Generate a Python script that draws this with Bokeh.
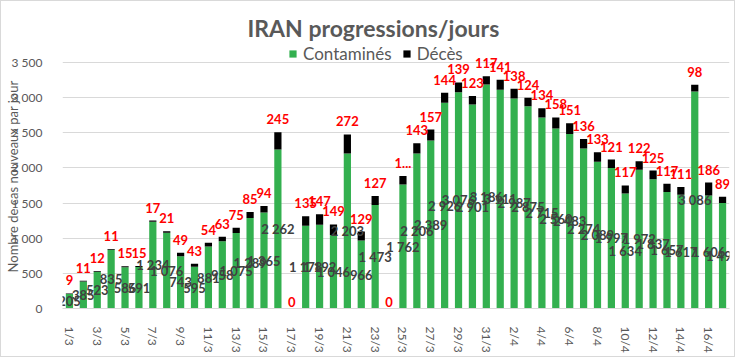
from bokeh.plotting import figure
from bokeh.models import (ColumnDataSource, Range1d, Legend, LegendItem, FixedTicker, Title)
from bokeh.embed import file_html
from bokeh.resources import INLINE
from bokeh.core.properties import value

# ---------------- data ----------------
days = [f"{d}/3" for d in range(1, 32)] + [f"{d}/4" for d in range(1, 18)]
contamines = [205, 385, 523, 835, 586, 591, 1234, 1076, 743, 595, 881, 958, 1075, 1289,
              1365, 2262, 0, 1178, 1192, 1046, 2203, 966, 1473, 0, 1762, 2206, 2389, 2926,
              3076, 2901, 3186, 3111, 2987, 2875, 2715, 2560, 2483, 2274, 2089, 1997, 1634,
              1972, 1837, 1657, 1617, 3086, 1606, 1499]
deces = [9, 11, 12, 11, 15, 15, 17, 21, 49, 43, 54, 63, 75, 85, 94, 245, 0, 135, 147, 149,
         272, 129, 127, 0, 122, 143, 157, 144, 139, 123, 117, 141, 138, 124, 134, 158, 151,
         136, 133, 121, 117, 122, 125, 117, 111, 98, 186, 89]
deces_label_override = {"25/3": "1..."}
y_ticks = [0, 500, 1000, 1500, 2000, 2500, 3000, 3500]

GREEN = "#33B04F"
FONT = "Lato"
GREY = "#595959"

def fmt(v):
    return f"{v:,}".replace(",", " ")

idx = list(range(len(days)))
total = [c + d for c, d in zip(contamines, deces)]
src = ColumnDataSource(dict(
    x=idx, c=contamines, d=deces,
    c_mid=[c / 2 for c in contamines],
    c_txt=[fmt(c) if c else "" for c in contamines],
    top=total,
    d_txt=[deces_label_override.get(day, fmt(d)) for day, d in zip(days, deces)],
    d_off=[-13 if t else -7 for t in total],
))

FW, FH = 667, 264
p = figure(x_range=Range1d(-0.5, len(days) - 0.5), y_range=Range1d(0, 3755),
           frame_width=FW, frame_height=FH, output_backend="svg", toolbar_location=None,
           title_location=None,
           min_border_left=49, min_border_right=5, min_border_top=36, min_border_bottom=48)
p.styles = {"border": "1px solid #D9D9D9"}

rs = p.vbar_stack(["c", "d"], x="x", width=0.52, color=[GREEN, "black"], source=src,
                  line_color=None)

p.text(x="x", y="c_mid", text="c_txt", source=src, text_align="center",
       text_baseline="middle", text_font=value(FONT), text_font_style="bold",
       text_font_size="13px", text_color="#404040")
p.text(x="x", y="top", text="d_txt", source=src, text_align="center",
       text_baseline="middle", y_offset="d_off", text_font=value(FONT),
       text_font_style="bold", text_font_size="13px", text_color="#FF0000")

legend = Legend(items=[LegendItem(label="Contaminés", renderers=[rs[0]]),
                       LegendItem(label="Décès", renderers=[rs[1]])],
                orientation="horizontal", location=(226, FH - 20),
                label_text_font=FONT, label_text_font_size="17px", label_text_color=GREY,
                glyph_width=9, glyph_height=9, label_height=18, padding=0, margin=0,
                spacing=10, label_standoff=6, border_line_color=None,
                background_fill_alpha=0)
p.add_layout(legend)

main_title = Title(text="IRAN progressions/jours", align="left", offset=185,
                   text_font=FONT, text_font_size="23px", text_font_style="bold",
                   text_color=GREY, standoff=5)
p.add_layout(main_title, "above")
# small empty spacer (outer side) above the title
p.add_layout(Title(text=" ", text_font_size="2px", standoff=4), "above")

# axes
p.yaxis.ticker = FixedTicker(ticks=y_ticks)
p.yaxis.major_label_overrides = {t: fmt(t) for t in y_ticks}
p.yaxis.axis_line_color = None
p.yaxis.major_tick_line_color = None
p.yaxis.minor_tick_line_color = None
p.yaxis.major_label_text_font = FONT
p.yaxis.major_label_text_font_size = "12px"
p.yaxis.major_label_text_color = GREY
p.yaxis.major_label_standoff = 14
p.yaxis.axis_label = "Nombre de cas nouveaux par jour"
p.yaxis.axis_label_text_font = FONT
p.yaxis.axis_label_text_font_size = "13px"
p.yaxis.axis_label_text_font_style = "normal"
p.yaxis.axis_label_text_color = GREY
p.yaxis.axis_label_standoff = -12

p.xaxis.ticker = FixedTicker(ticks=idx[::2])
p.xaxis.major_label_overrides = {i: days[i] for i in idx[::2]}
p.xaxis.major_label_orientation = "vertical"
p.xaxis.axis_line_color = "#D9D9D9"
p.xaxis.major_tick_line_color = None
p.xaxis.minor_tick_line_color = None
p.xaxis.major_label_text_font = FONT
p.xaxis.major_label_text_font_size = "12px"
p.xaxis.major_label_text_color = GREY
p.xaxis.major_label_standoff = 12

p.xgrid.grid_line_color = None
p.ygrid.grid_line_color = "#D9D9D9"
p.outline_line_color = None

open("out.html", "w").write(file_html(p, INLINE))
